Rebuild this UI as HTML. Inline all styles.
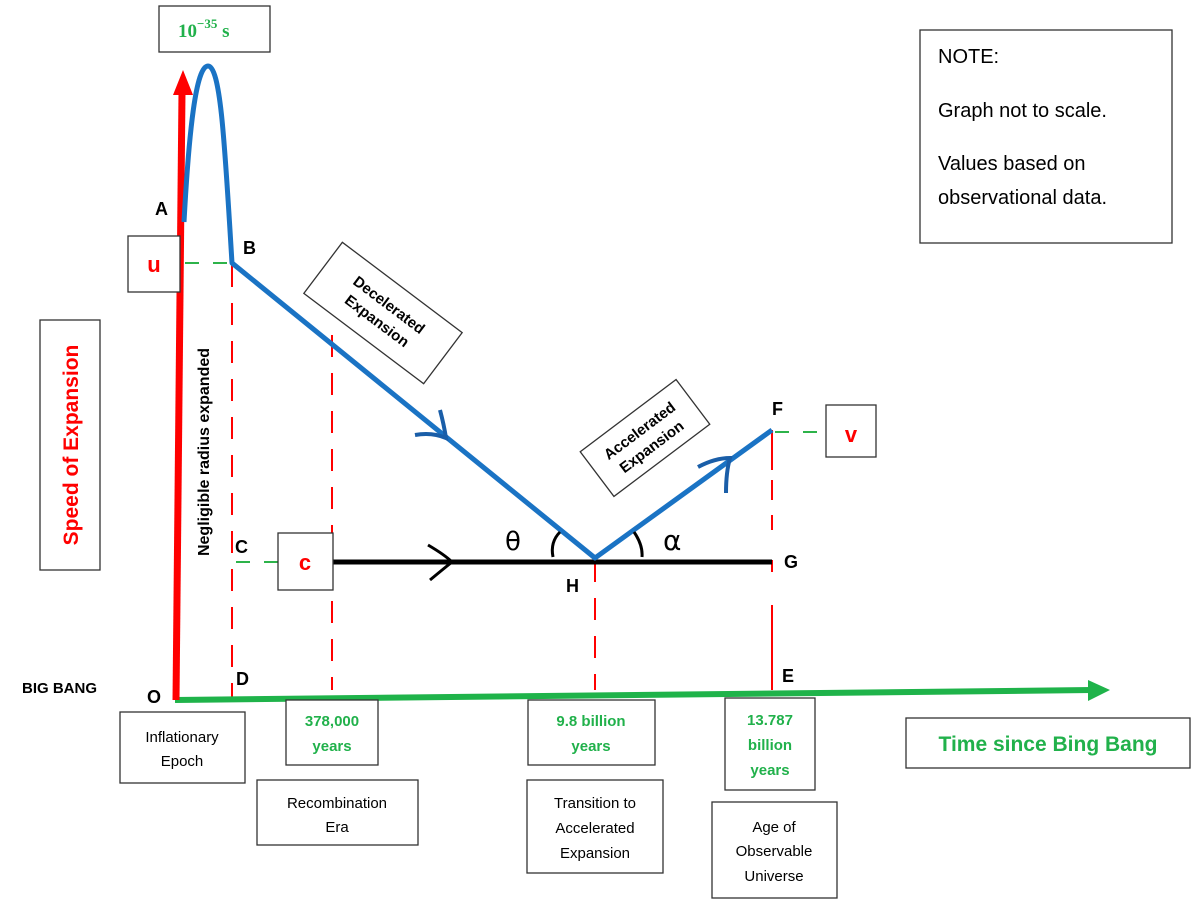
<!DOCTYPE html>
<html><head><meta charset="utf-8"><style>
body{margin:0;background:#fff;}
svg{display:block;font-family:"Liberation Sans",sans-serif;}
</style></head><body>
<svg width="1200" height="909" viewBox="0 0 1200 909" xmlns="http://www.w3.org/2000/svg">
<g stroke="#f00" stroke-width="2" fill="none">
<line x1="232" y1="265" x2="232" y2="698" stroke-dasharray="22,16"/>
<line x1="332" y1="335" x2="332" y2="690" stroke-dasharray="22,16"/>
<line x1="595" y1="560" x2="595" y2="690" stroke-dasharray="22,16"/>
<line x1="772" y1="430" x2="772" y2="470"/>
<line x1="772" y1="480" x2="772" y2="530" stroke-dasharray="20,15"/>
<line x1="772" y1="560" x2="772" y2="572"/>
<line x1="772" y1="605" x2="772" y2="690"/>
</g>
<g stroke="#2db34a" stroke-width="2" stroke-dasharray="14,14">
<line x1="185" y1="263" x2="232" y2="263"/>
<line x1="236" y1="562" x2="278" y2="562"/>
<line x1="775" y1="432" x2="822" y2="432"/>
</g>
<line x1="175" y1="700" x2="1092" y2="690" stroke="#1fb34a" stroke-width="6"/>
<polygon points="1110,690 1088,680 1088,701" fill="#1fb34a"/>
<line x1="176" y1="700" x2="182" y2="92" stroke="#f00" stroke-width="7"/>
<polygon points="183,70 173,95 193,95" fill="#f00"/>
<line x1="333" y1="562" x2="772" y2="562" stroke="#000" stroke-width="5"/>
<path d="M428,545 Q445,555 452,562 Q442,570 430,580" stroke="#000" stroke-width="3" fill="none"/>
<g stroke="#1a73c4" stroke-width="5" fill="none" stroke-linejoin="round">
<path d="M184,222 C189,130 196,66 208,66 C221,66 225,150 232,263 L595,558 L772,430"/>
</g>
<path d="M415,435 Q432,432 446,438 Q444,425 440,410" stroke="#1a5ea8" stroke-width="4" fill="none"/>
<path d="M698,467 Q715,458 730,458 Q726,472 726,493" stroke="#1a5ea8" stroke-width="4" fill="none"/>
<path d="M553,557 Q550,542 560,532" stroke="#000" stroke-width="3" fill="none"/>
<path d="M634,532 Q643,545 642,557" stroke="#000" stroke-width="3" fill="none"/>
<text x="505" y="550" font-size="26" font-family="DejaVu Sans,sans-serif">θ</text>
<text x="663" y="550" font-size="28" font-family="DejaVu Sans,sans-serif">α</text>
<g font-weight="bold" font-size="18" fill="#000">
<text x="155" y="215">A</text><text x="243" y="254">B</text>
<text x="235" y="553">C</text><text x="236" y="685">D</text>
<text x="566" y="592">H</text><text x="784" y="568">G</text>
<text x="772" y="415">F</text><text x="782" y="682">E</text>
<text x="147" y="703">O</text>
<text x="22" y="693" font-size="15">BIG BANG</text>
</g>
<g fill="#fff" stroke="#333" stroke-width="1.3">
<rect x="159" y="6" width="111" height="46"/>
<rect x="128" y="236" width="52" height="56"/>
<rect x="278" y="533" width="55" height="57"/>
<rect x="826" y="405" width="50" height="52"/>
<rect x="920" y="30" width="252" height="213"/>
<rect x="40" y="320" width="60" height="250"/>
<rect x="120" y="712" width="125" height="71"/>
<rect x="286" y="700" width="92" height="65"/>
<rect x="257" y="780" width="161" height="65"/>
<rect x="528" y="700" width="127" height="65"/>
<rect x="527" y="780" width="136" height="93"/>
<rect x="725" y="698" width="90" height="92"/>
<rect x="712" y="802" width="125" height="96"/>
<rect x="906" y="718" width="284" height="50"/>
<rect x="-75" y="-32" width="150" height="64" transform="translate(383,313) rotate(37)"/>
<rect x="-60" y="-28" width="120" height="56" transform="translate(645,438) rotate(-37)"/>
</g>
<text x="178" y="37" font-size="19" font-weight="bold" fill="#21b14b" font-family="Liberation Serif,serif">10<tspan dy="-9" font-size="13">−35</tspan><tspan dy="9"> s</tspan></text>
<g font-weight="bold" fill="#f00" font-size="22" text-anchor="middle">
<text x="154" y="272">u</text><text x="305" y="570">c</text><text x="851" y="442">v</text>
</g>
<text transform="translate(78,445) rotate(-90)" text-anchor="middle" font-size="21" font-weight="bold" fill="#f00">Speed of Expansion</text>
<text transform="translate(209,452) rotate(-90)" text-anchor="middle" font-size="16" font-weight="bold">Negligible radius expanded</text>
<g font-size="20" fill="#000">
<text x="938" y="63">NOTE:</text>
<text x="938" y="117">Graph not to scale.</text>
<text x="938" y="170">Values based on</text>
<text x="938" y="204">observational data.</text>
</g>
<g font-size="15" font-weight="bold" transform="translate(383,313) rotate(37)" text-anchor="middle">
<text y="-5">Decelerated</text><text y="15">Expansion</text></g>
<g font-size="15" font-weight="bold" transform="translate(645,438) rotate(-37)" text-anchor="middle">
<text y="-4">Accelerated</text><text y="16">Expansion</text></g>
<g font-size="15" text-anchor="middle" fill="#000">
<text x="182" y="742">Inflationary</text><text x="182" y="766">Epoch</text>
<text x="337" y="808">Recombination</text><text x="337" y="832">Era</text>
<text x="595" y="808">Transition to</text><text x="595" y="833">Accelerated</text><text x="595" y="858">Expansion</text>
<text x="774" y="832">Age of</text><text x="774" y="856">Observable</text><text x="774" y="881">Universe</text>
</g>
<g font-size="15" font-weight="bold" text-anchor="middle" fill="#21b14b">
<text x="332" y="726">378,000</text><text x="332" y="751">years</text>
<text x="591" y="726">9.8 billion</text><text x="591" y="751">years</text>
<text x="770" y="725">13.787</text><text x="770" y="750">billion</text><text x="770" y="775">years</text>
<text x="1048" y="751" font-size="21">Time since Bing Bang</text>
</g>
</svg>
</body></html>
